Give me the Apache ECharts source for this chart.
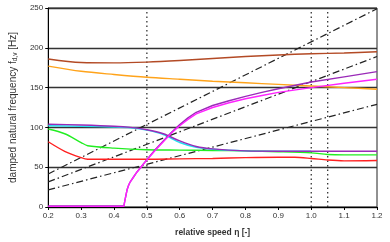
<!DOCTYPE html>
<html><head><meta charset="utf-8">
<script src="https://cdn.jsdelivr.net/npm/echarts@6/dist/echarts.min.js"></script>
<style>html,body{margin:0;padding:0;background:#fff}#c{width:390px;height:242px}</style>
</head><body><div id="c"></div>
<script>
const xTicks = [0.2,0.3,0.4,0.5,0.6,0.7,0.8,0.9,1.0,1.1,1.2];
const yTicks = [0,50,100,150,200,250];

const brownX = [0.2,0.3,0.4,0.5,0.6,0.7,0.8,0.9,1.0,1.1,1.2];
const brownY = [186,181.5,181,182,184,186.5,189,191,192.5,193.5,195];

const orangeX = [0.2,0.3,0.4,0.5,0.6,0.7,0.8,0.9,1.0,1.1,1.2];
const orangeY = [177,170.5,166.5,163,160.5,158,156,154,152,150,148];

const greenX = [0.2,0.25,0.3,0.32,0.4,0.5,0.6,0.7,0.8,0.9,1.0,1.05,1.1,1.2];
const greenY = [98,92,81,77,74,72,71.5,71,70.5,69.5,68,66,65.5,65.5];

const redX = [0.2,0.25,0.3,0.32,0.4,0.5,0.6,0.7,0.8,0.9,0.95,1.0,1.05,1.1,1.2];
const redY = [82,70,62,60,60,60,60.5,61,62,62.5,62.5,61,59,58,58.5];

const purpleDownX = [0.2,0.3,0.4,0.45,0.5,0.55,0.6,0.65,0.7,0.8,0.9,1.0,1.1,1.2];
const purpleDownY = [104,103,101.5,100,97,92,83,76,73,70.5,70,70,70,70];

const cyanDownX = [0.2,0.3,0.4,0.45,0.5,0.55,0.6,0.65,0.7,0.8,0.9,1.0];
const cyanDownY = [102,101.5,100.5,99.5,96.5,91,81,75,72.5,70.5,70,70];

const magentaX = [0.2,0.43,0.433,0.437,0.44,0.445,0.45,0.46,0.47,0.48,0.49,0.5,0.525,0.55,0.575,0.6,0.625,0.65,0.7,0.75,0.8,0.85,0.9,1.0,1.1,1.2];
const magentaY = [0.8,0.8,8,16,22,28,32,38,44,49,54,59,71,82,93,102,110,117,125,131,136,140,144,150,155.5,160.5];

const purpleUpX = [0.2,0.43,0.433,0.437,0.44,0.445,0.45,0.46,0.47,0.48,0.49,0.5,0.525,0.55,0.575,0.6,0.625,0.65,0.7,0.75,0.8,0.85,0.9,1.0,1.1,1.2];
const purpleUpY = [1.2,1.2,8,16,22,28,32,38,44,49,54.5,59.5,72,83,94,103.5,112,119,127.5,133.5,139,144,148.5,157,163.5,170];

const orderSlopes = [207.5, 157.5, 107.5];
const orderX = [0.2, 1.2];
const markerX = [0.5, 1.0, 1.05];

function pts(xs, ys){ return xs.map((x,i)=>[x, ys[i]]); }

const chart = echarts.init(document.getElementById('c'));
const series = [];
markerX.forEach(x=>{
  series.push({type:'line', data:[[x,0],[x,250]], symbol:'none', silent:true,
    lineStyle:{color:'#333', width:1.3, type:[1.5,3]}, z:1});
});
orderSlopes.forEach(k=>{
  series.push({type:'line', data:orderX.map(x=>[x, k*x]), symbol:'none', silent:true,
    lineStyle:{color:'#222', width:1.2, type:[7,3,1.5,3]}, z:2});
});
const curve = (xs, ys, color, sm)=>({type:'line', data:pts(xs,ys), symbol:'none', smooth:sm,
  lineStyle:{color, width:1.4}, z:3});
series.push(curve(brownX, brownY, '#b34a25', 0.3));
series.push(curve(orangeX, orangeY, '#ffa31a', 0.3));
series.push(curve(greenX, greenY, '#22ee22', 0.3));
series.push(curve(redX, redY, '#ff2020', 0.3));
series.push(curve(cyanDownX, cyanDownY, '#22e0f0', 0.3));
series.push(curve(purpleDownX, purpleDownY, '#9a2ab8', 0.3));
series.push(curve(purpleUpX, purpleUpY, '#9a2ab8', false));
series.push(curve(magentaX, magentaY, '#ff22ff', false));

chart.setOption({
  animation:false,
  grid:{left:37, right:13, top:8, bottom:35, show:true, borderColor:'#222', borderWidth:1},
  xAxis:{type:'value', min:0.2, max:1.2, interval:0.1,
    axisLine:{show:true, onZero:false, lineStyle:{color:'#000', width:1}},
    axisTick:{show:true, length:3, lineStyle:{color:'#000'}},
    axisLabel:{color:'#333', fontSize:8, fontFamily:'Liberation Sans', margin:5,
      formatter:v=>v.toFixed(1)},
    splitLine:{show:false},
    name:'relative speed η [-]', nameLocation:'middle', nameGap:21,
    nameTextStyle:{color:'#333', fontSize:8.5, fontWeight:'bold', fontFamily:'Liberation Sans'}},
  yAxis:{type:'value', min:0, max:250, interval:50,
    axisLine:{show:true, lineStyle:{color:'#000', width:1}},
    axisTick:{show:true, length:3, lineStyle:{color:'#000'}},
    axisLabel:{color:'#333', fontSize:8, fontFamily:'Liberation Sans', margin:5},
    splitLine:{show:true, lineStyle:{color:'#333', width:1.4}},
    name:'{a|damped natural frequency f}{b|d,v}{a| [Hz]}', nameLocation:'middle', nameGap:23, nameRotate:90,
    nameTextStyle:{color:'#333', fontFamily:'Liberation Sans',
      rich:{a:{fontSize:10, color:'#333', fontFamily:'Liberation Sans', lineHeight:13, verticalAlign:'middle'},
            b:{fontSize:6.5, color:'#333', fontFamily:'Liberation Sans', padding:[5,0,0,0], verticalAlign:'middle'}}}},
  series
});
</script></body></html>
